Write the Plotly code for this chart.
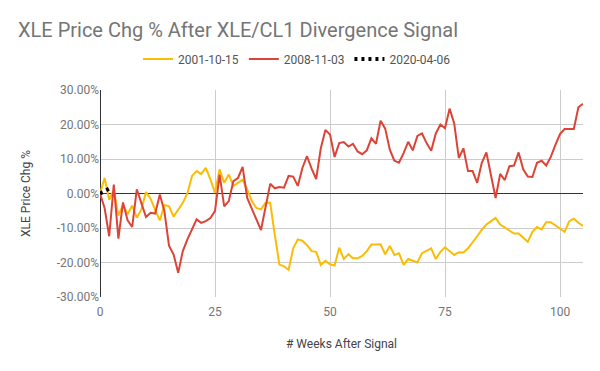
import plotly.graph_objects as go

weeks = list(range(0, 106))

xle_2001 = [0.0, 4.5, -1.8, 1.0, -6.4, -3.3, -6.0, -3.5, -7.0, -4.6,
            0.4, -1.5, -4.8, -7.8, -3.3, -3.7, -6.7, -4.8, -2.7, 0.1,
            5.1, 6.5, 5.6, 7.4, 4.1, 0.2, 7.0, 3.1, 5.5, 2.2,
            3.1, 4.0, 1.2, -2.2, -4.2, -4.6, -2.7, -2.7, -12.0, -20.6,
            -21.1, -22.1, -15.9, -13.3, -13.7, -15.0, -16.7, -16.9, -20.7, -19.5,
            -20.5, -20.9, -15.7, -19.0, -17.6, -18.8, -18.8, -18.1, -16.7, -14.8,
            -14.8, -14.7, -17.6, -15.2, -17.8, -17.3, -20.7, -19.0, -19.5, -20.0,
            -17.3, -16.7, -15.9, -19.0, -16.9, -15.6, -16.7, -17.8, -17.0, -17.1,
            -15.9, -14.3, -12.4, -10.5, -9.0, -8.0, -7.1, -9.0, -9.9, -10.7,
            -11.6, -11.6, -12.9, -14.0, -11.1, -9.7, -10.4, -8.3, -8.3, -9.2,
            -10.0, -11.1, -8.1, -7.3, -8.5, -9.4]

xle_2008 = [0.0, -4.2, -12.4, 2.6, -13.1, -2.6, -7.8, -9.7, 1.2, -2.7,
            -6.8, -5.6, -5.8, -0.3, -5.1, -15.1, -17.7, -23.0, -16.7, -13.3,
            -10.2, -7.5, -8.5, -8.0, -7.1, -5.1, 5.5, -3.7, -2.2, 3.6,
            4.5, 7.7, -1.3, -4.2, -7.5, -10.6, -3.8, 2.8, 1.5, 1.9,
            1.7, 5.1, 4.9, 2.2, 7.4, 10.8, 7.2, 4.2, 13.1, 18.4,
            17.1, 10.6, 14.6, 14.9, 13.6, 14.4, 12.2, 11.4, 12.5, 16.0,
            14.4, 21.1, 18.8, 12.7, 9.5, 8.9, 11.7, 15.0, 12.5, 16.7,
            17.4, 14.6, 12.4, 17.4, 20.0, 18.9, 24.6, 20.3, 10.3, 13.1,
            6.5, 6.5, 3.1, 8.9, 11.9, 5.5, -1.3, 5.7, 3.9, 7.9,
            8.1, 11.9, 7.0, 4.9, 4.8, 8.9, 9.5, 8.1, 10.6, 14.1,
            17.2, 18.7, 18.8, 18.7, 25.0, 26.0]

weeks_2020 = [0, 2]
xle_2020 = [0.0, 1.4]

series_names = ["2001-10-15", "2008-11-03", "2020-04-06"]
series_colors = ["#fbbc04", "#db4437", "#000000"]

y_tickvals = [-30, -20, -10, 0, 10, 20, 30]
y_ticktext = ["-30.00%", "-20.00%", "-10.00%", "0.00%", "10.00%", "20.00%", "30.00%"]
x_tickvals = [0, 25, 50, 75, 100]

FONT = "Roboto, Arial, sans-serif"
W, H = 592, 363  # page body adds an 8px offset

fig = go.Figure()
fig.add_trace(go.Scatter(x=weeks, y=xle_2001, mode="lines", name=series_names[0],
                         line=dict(color=series_colors[0], width=2)))
fig.add_trace(go.Scatter(x=weeks, y=xle_2008, mode="lines", name=series_names[1],
                         line=dict(color=series_colors[1], width=2)))
fig.add_trace(go.Scatter(x=weeks_2020, y=xle_2020, mode="lines", name=series_names[2],
                         line=dict(color=series_colors[2], width=4, dash="3px,4px")))

fig.update_layout(
    width=W, height=H,
    margin=dict(l=92, r=17, t=82, b=74, autoexpand=False),
    paper_bgcolor="white", plot_bgcolor="white",
    font=dict(family=FONT, size=12, color="#444444"),
    title=dict(text="XLE Price Chg % After XLE/CL1 Divergence Signal",
               font=dict(family=FONT, size=20, color="#757575"),
               x=10/W, xanchor="left", xref="container",
               y=1-15/H, yanchor="top", yref="container"),
    legend=dict(orientation="h", x=289/W, xanchor="center", xref="container",
                y=1-51/H, yanchor="middle", yref="container",
                font=dict(family=FONT, size=12, color="#555555"),
                bgcolor="rgba(0,0,0,0)"),
    showlegend=True,
)
fig.update_xaxes(range=[0, 105], tickvals=x_tickvals, showgrid=True, gridcolor="#cccccc",
                 gridwidth=1, zeroline=True, zerolinecolor="#333333", zerolinewidth=1,
                 showline=False, ticks="", automargin=False, ticklabelstandoff=6,
                 tickfont=dict(family=FONT, size=12, color="#757575"),
                 title=dict(text="# Weeks After Signal", font=dict(family=FONT, size=12, color="#444444"),
                            standoff=21))
fig.update_yaxes(range=[-30, 30], tickvals=y_tickvals, ticktext=y_ticktext, showgrid=True,
                 gridcolor="#cccccc", gridwidth=1, zeroline=True, zerolinecolor="#333333",
                 zerolinewidth=1, showline=False, ticks="", automargin=False,
                 tickfont=dict(family=FONT, size=12, color="#757575"),
                 title=dict(text="XLE Price Chg %", font=dict(family=FONT, size=12, color="#444444"),
                            standoff=23))

fig.write_html("out.html")
